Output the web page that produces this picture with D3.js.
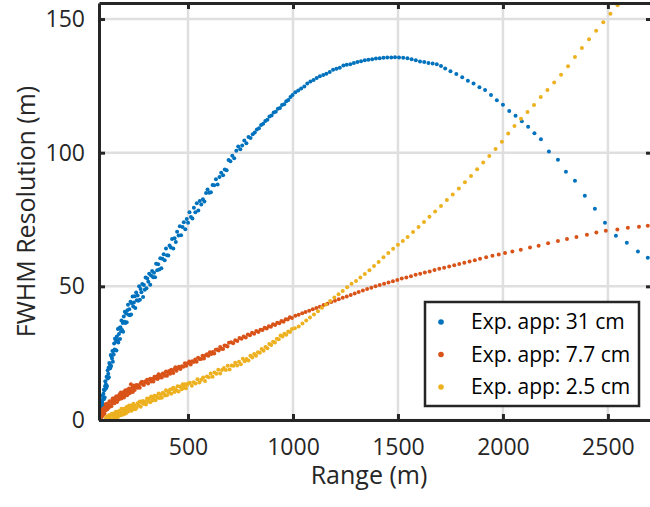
<!DOCTYPE html>
<html>
<head>
<meta charset="utf-8">
<script src="https://cdn.jsdelivr.net/npm/d3@7"></script>
<style>
  html, body { margin: 0; padding: 0; background: #fff; }
  svg { display: block; font-family: "Open Sans", sans-serif; }
</style>
</head>
<body>
<svg id="chart" width="650" height="507"></svg>
<script>
// FWHM resolution versus range for three expansion apertures
const seriesNames = ["Exp. app: 31 cm", "Exp. app: 7.7 cm", "Exp. app: 2.5 cm"];
const seriesColors = ["#0072BD", "#D95319", "#EDB120"];

const xTicks = [500, 1000, 1500, 2000, 2500];
const yTicks = [0, 50, 100, 150];
const xDomain = [76, 2710];
const yDomain = [0, 156];

// [range (m), FWHM (m)]
const app31 = [
  [80,4.1],[81,1.0],[82,3.3],[83,0.6],[84,4.7],[85,3.5],[86,6.9],[87,2.6],[88,5.0],[89,6.9],
  [90,3.3],[91,6.8],[92,5.5],[93,9.1],[94,6.0],[95,7.9],[96,5.2],[97,9.8],[98,8.2],[99,11.3],
  [100,7.9],[102,11.1],[103,8.4],[105,12.6],[106,14.5],[108,11.8],[109,13.4],[111,12.1],[112,16.2],[114,12.7],
  [115,16.2],[117,18.6],[118,15.5],[120,17.3],[122,19.6],[123,16.0],[125,21.3],[127,19.3],[128,20.8],[130,19.5],
  [132,24.3],[134,20.2],[136,23.8],[138,23.0],[140,25.8],[142,21.8],[144,25.8],[146,24.5],[148,28.6],[150,26.4],
  [152,30.4],[154,26.2],[157,29.4],[159,26.0],[161,31.2],[164,29.9],[166,34.0],[168,29.0],[171,32.2],[173,34.4],
  [176,30.3],[178,34.7],[181,33.2],[183,37.2],[186,33.7],[189,36.3],[191,33.0],[194,38.7],[197,36.8],[199,40.5],
  [202,36.3],[205,39.8],[208,36.6],[211,41.1],[214,43.1],[217,39.4],[220,41.4],[223,39.2],[226,44.2],[229,39.5],
  [232,43.7],[236,46.2],[239,42.5],[242,44.0],[246,46.3],[249,41.9],[253,47.7],[256,44.8],[260,46.6],[263,44.6],
  [267,50.0],[271,45.0],[274,49.0],[278,47.8],[282,50.9],[286,46.0],[290,50.5],[294,48.7],[298,53.3],
  [302,49.3],[306,52.9],[311,51.7],[315,54.7],[320,50.6],[324,54.1],[329,55.7],[334,53.4],[338,55.1],[343,53.4],
  [348,58.5],[353,56.0],[358,58.3],[363,56.3],[368,60.5],[373,56.8],[378,60.3],[384,62.0],[389,59.8],[395,64.2],
  [400,61.6],[406,61.5],[412,65.3],[418,64.5],[424,67.7],[430,64.2],[436,68.0],[442,66.6],[448,70.4],[455,69.0],
  [461,72.5],[467,69.1],[474,72.2],[480,74.0],[487,71.4],[494,75.2],[500,73.8],[507,77.7],[514,75.9],[521,75.4],
  [528,79.4],[535,77.7],[542,81.1],[549,78.4],
  [556,81.9],[563,80.6],[571,82.6],[578,81.7],[586,84.9],[593,86.2],[601,85.0],[609,85.2],[617,87.9],[625,87.8],
  [633,90.1],[641,88.1],[650,90.9],[658,92.5],[667,91.6],[675,93.7],[684,93.4],[693,97.3],[702,96.8],[711,98.9],
  [720,97.9],[730,100.7],[739,102.3],[749,101.3],[758,102.7],[768,104.6],[778,103.5],[788,105.9],[798,105.5],
  [808,106.9],[818,107.6],[828,108.7],[838,109.1],[848,110.4],[858,110.8],[868,111.9],[878,112.3],[888,113.5],[898,113.9],
  [908,115.0],[918,115.3],[928,116.4],[938,116.7],[948,117.8],[958,118.1],[968,119.2],[978,119.7],[988,120.8],[998,121.6],
  [1011,122.6],[1025,123.3],[1039,124.0],[1054,124.8],
  [1068,125.9],[1083,126.6],[1098,127.2],[1113,127.9],[1128,128.6],[1144,129.1],[1159,129.5],[1175,130.2],[1191,131.0],[1207,131.4],
  [1223,131.8],[1240,132.6],[1256,132.9],[1273,133.1],[1290,133.6],[1307,133.9],[1324,134.2],[1342,134.6],[1359,134.8],[1377,135.0],
  [1395,135.2],[1413,135.3],[1431,135.5],[1449,135.6],[1468,135.6],[1486,135.7],[1505,135.6],[1525,135.5],[1545,135.3],[1565,135.0],
  [1585,134.6],[1605,134.1],[1625,133.9],[1645,133.6],[1665,133.4],[1685,133.1],[1705,132.4],[1725,131.5],[1750,130.5],[1778,129.4],
  [1806,128.2],[1833,126.9],[1860,125.9],[1888,124.5],[1915,123.5],[1943,121.6],[1971,119.6],[2000,117.9],[2030,115.6],[2060,113.8],
  [2090,111.8],[2120,109.7],[2150,107.3],[2181,105.0],[2219,100.4],[2262,97.4],[2300,92.9],[2343,89.5],[2390,83.9],[2438,79.0],
  [2486,73.8],[2538,68.9],[2590,66.3],[2643,63.0],[2690,60.7]
];

const app77 = [
  [80,1.8],[82,0.4],[84,2.0],[86,1.2],[88,3.3],[90,1.2],[92,2.8],[94,4.0],[96,1.9],[98,3.5],
  [100,4.6],[102,2.4],[104,4.6],[106,3.7],[108,5.9],[110,3.7],[112,5.0],[114,6.1],[116,4.0],[118,5.8],[120,5.1],
  [123,4.7],[126,7.0],[129,5.6],[132,6.9],[135,5.1],[138,6.9],[141,8.0],[144,6.3],[147,7.2],[150,6.3],
  [153,8.4],[156,7.3],[159,8.9],[162,6.7],[165,8.7],[168,8.5],[171,7.7],[174,9.6],[177,8.6],[180,10.3],
  [183,8.0],[186,9.8],[189,8.9],[192,10.4],[195,8.4],[198,10.1],[201,11.1],[204,9.3],[207,10.6],[210,9.3],
  [213,11.3],[216,10.5],[219,11.8],[222,10.0],[225,11.3],[228,13.4],[231,10.7],[234,12.1],[237,10.5],[240,12.2],
  [243,12.9],[246,11.2],[249,12.4],
  [255,13.1],[260,12.1],[265,13.0],[270,12.1],[275,13.8],[280,14.3],[285,13.3],[290,13.1],[295,14.4],[300,14.1],
  [305,15.1],[310,13.7],[315,15.0],[320,15.4],[325,14.4],[330,15.3],[335,14.4],[340,16.2],[345,15.5],[350,16.3],
  [355,15.3],[360,17.1],[365,15.9],[370,16.7],[375,15.9],[380,17.4],[385,17.3],[390,16.6],[395,18.1],[400,16.6],
  [405,17.7],[410,18.3],[415,17.3],[420,18.8],[425,18.0],[430,17.6],[435,19.0],[440,19.7],[445,18.4],[450,19.3],
  [457,19.9],[464,19.1],[471,20.1],[478,19.9],[485,21.2],[492,20.3],[499,21.2],[506,21.9],[513,20.8],[520,22.0],
  [527,21.7],[534,22.6],[541,21.8],[548,23.3],[555,22.8],[562,22.8],[569,24.0],[576,23.0],[583,24.1],[590,24.6],
  [597,24.0],[604,25.3],[611,24.7],[618,25.4],[625,24.9],[632,26.3],[639,26.4],[646,26.0],[653,27.3],[660,26.7],
  [667,26.6],[674,27.9],[681,27.8],[688,27.5],[695,28.9],
  [705,29.1],[715,28.7],[725,29.8],[735,29.6],[745,30.7],[755,30.4],[765,31.2],[775,30.9],[785,32.0],[795,31.7],
  [805,32.6],[815,32.3],[825,33.3],[835,32.9],[845,33.8],[855,33.7],[865,34.5],[875,34.2],[885,35.1],[895,34.9],
  [905,35.8],[915,35.5],[925,36.4],[935,36.2],[945,37.0],[955,36.8],[965,37.7],[975,37.6],[985,38.4],[995,38.2],
  [1011,39.0],[1027,39.4],[1044,39.9],[1060,40.4],[1077,40.9],
  [1094,41.4],[1111,41.9],[1128,42.4],[1146,43.0],[1164,43.5],[1182,44.1],[1200,44.6],[1218,45.2],[1237,45.7],[1256,46.2],
  [1275,46.8],[1294,47.3],[1313,47.9],[1333,48.4],[1353,49.0],[1373,49.5],[1393,50.0],[1413,50.5],[1434,51.0],[1455,51.4],
  [1476,51.9],[1497,52.4],[1518,52.9],[1540,53.3],[1562,53.8],[1584,54.3],[1606,54.7],[1628,55.2],[1651,55.6],[1674,56.1],
  [1697,56.6],[1720,57.0],[1744,57.4],[1768,57.9],[1792,58.4],[1816,58.8],[1841,59.3],[1866,59.8],[1891,60.3],[1920,60.9],
  [1950,61.4],[1980,61.9],[2010,62.5],[2045,63.0],[2085,63.7],[2129,64.5],[2170,65.2],[2215,66.1],[2262,67.0],[2305,67.7],
  [2350,68.5],[2400,69.3],[2445,70.1],[2490,70.8],[2545,71.3],[2595,71.9],[2648,72.3],[2690,72.7]
];

const app25 = [
  [108,0.4],[111,1.2],[114,0.1],[117,1.2],[120,0.1],[123,1.8],[126,0.7],[129,1.7],[132,0.3],[135,2.2],
  [138,0.3],[141,1.8],[144,2.4],[147,0.6],[150,1.9],[153,0.6],[156,3.1],[159,1.6],[162,2.8],[165,1.0],
  [168,2.5],[171,3.4],[174,1.8],[177,3.0],[180,1.8],[183,4.2],[186,2.5],[189,3.2],[192,2.1],[195,4.2],
  [198,3.2],[201,4.1],[204,2.4],[207,4.9],[210,3.5],[213,4.3],[216,3.2],[219,5.4],[222,3.7],[225,4.9],
  [228,5.4],[231,3.5],[234,4.8],[237,4.2],[240,6.1],[243,4.1],[246,5.4],[249,4.0],
  [255,4.6],[260,6.3],[265,5.4],[270,6.9],[275,5.0],[280,6.5],[285,7.1],[290,6.0],[295,6.9],[300,5.8],
  [305,8.0],[310,6.9],[315,8.0],[320,6.6],[325,8.8],[330,7.3],[335,8.1],[340,9.1],[345,7.4],[350,9.0],
  [355,8.3],[360,9.9],[365,8.2],[370,9.5],[375,8.3],[380,10.2],[385,9.9],[390,9.2],[395,11.1],[400,9.3],
  [405,10.7],[410,10.3],[415,11.4],[420,9.8],[425,11.6],[430,12.1],[435,10.5],[440,11.5],[445,11.0],[450,12.6],
  [455,10.7],[460,12.5],[465,12.4],[470,11.5],[475,13.4],[480,12.1],[485,13.4],[490,11.9],[495,13.1],[500,13.7],
  [509,13.9],[518,12.8],[527,14.1],[536,13.7],[545,15.2],[554,14.0],[563,15.1],[572,15.9],[581,14.6],[590,16.3],
  [599,16.0],[608,17.4],[617,16.2],[626,17.8],[635,17.3],[644,18.8],[653,17.4],[662,18.7],[671,19.5],[680,18.7],
  [689,20.3],[698,18.9],[707,20.4],[716,20.3],[725,21.4],[734,20.4],[743,21.8],[752,20.9],[761,22.9],[770,22.0],
  [779,22.8],[788,22.3],[797,24.0],[806,23.4],[815,24.7],[824,24.0],[833,25.3],[842,25.2],[851,26.6],[860,25.9],
  [869,27.3],[878,26.8],[887,28.4],[896,28.1],[905,29.3],[914,29.0],[923,30.4],[932,30.2],[941,31.6],[950,31.2],
  [959,32.3],[968,31.9],[977,33.1],[986,32.9],[995,34.0],
  [1009,34.3],[1027,35.0],[1045,36.1],
  [1063,37.2],[1081,38.3],[1100,39.5],[1119,40.7],[1138,42.0],[1157,43.2],[1177,44.5],[1197,45.8],[1217,47.0],[1237,48.3],
  [1258,49.7],[1279,51.0],[1300,52.0],[1321,53.3],[1342,54.6],[1364,56.0],[1386,57.6],[1408,59.1],[1431,60.9],[1454,62.5],
  [1477,64.1],[1500,65.6],[1523,67.0],[1546,68.5],[1572,70.3],[1598,72.2],[1624,74.1],[1650,76.0],[1677,78.0],[1705,80.1],
  [1733,82.3],[1761,84.4],[1790,86.6],[1819,88.9],[1848,91.3],[1877,93.8],[1906,96.3],[1935,98.8],[1965,101.4],[1995,104.1],
  [2025,107.2],[2055,110.0],[2086,112.7],[2117,115.2],[2148,117.8],[2180,120.8],[2212,123.5],[2244,126.3],[2277,129.2],[2310,132.3],
  [2343,135.8],[2376,139.2],[2410,142.4],[2444,145.6],[2478,148.8],[2512,152.0],[2546,155.2],[2580,158.4]
];

const seriesData = [app31, app77, app25];

const svg = d3.select("#chart");
const plot = { left: 99, top: 3, right: 652, bottom: 420 };
const x = d3.scaleLinear().domain(xDomain).range([plot.left, plot.right]);
const y = d3.scaleLinear().domain(yDomain).range([plot.bottom, plot.top]);

const axisColor = "#262626";
const fmt = d3.format("d");

// grid
const grid = svg.append("g");
grid.selectAll("line.gx").data(xTicks).join("line")
  .attr("x1", d => x(d)).attr("x2", d => x(d))
  .attr("y1", plot.top).attr("y2", plot.bottom)
  .attr("stroke", "#dfdfdf").attr("stroke-width", 2.5);
grid.selectAll("line.gy").data(yTicks).join("line")
  .attr("x1", plot.left).attr("x2", plot.right)
  .attr("y1", d => y(d)).attr("y2", d => y(d))
  .attr("stroke", "#dfdfdf").attr("stroke-width", 2.5);

// data points, clipped to the axes box
svg.append("clipPath").attr("id", "plotClip").append("rect")
  .attr("x", plot.left).attr("y", plot.top)
  .attr("width", plot.right - plot.left).attr("height", plot.bottom - plot.top);

const dots = svg.append("g").attr("clip-path", "url(#plotClip)");
seriesData.forEach((pts, i) => {
  dots.append("g").selectAll("circle").data(pts).join("circle")
    .attr("cx", d => x(d[0])).attr("cy", d => y(d[1]))
    .attr("r", 2).attr("fill", seriesColors[i]);
});

// axes
function styleAxis(g) {
  g.select(".domain").attr("stroke", axisColor).attr("stroke-width", 3);
  g.selectAll(".tick line").attr("stroke", axisColor).attr("stroke-width", 3);
  g.selectAll(".tick text").attr("fill", axisColor)
    .style("font-size", "23px").style("font-family", "'Open Sans', sans-serif");
}

svg.append("g").attr("transform", `translate(0,${plot.bottom})`)
  .call(d3.axisBottom(x).tickValues(xTicks).tickFormat(fmt).tickSizeInner(-6).tickSizeOuter(0).tickPadding(19))
  .call(styleAxis);
svg.append("g").attr("transform", `translate(0,${plot.top})`)
  .call(d3.axisTop(x).tickValues(xTicks).tickSizeInner(-6).tickSizeOuter(0).tickFormat(() => ""))
  .call(styleAxis);
svg.append("g").attr("transform", `translate(${plot.left},0)`)
  .call(d3.axisLeft(y).tickValues(yTicks).tickFormat(fmt).tickSizeInner(-6).tickSizeOuter(0).tickPadding(14))
  .call(styleAxis);
svg.append("g").attr("transform", `translate(${plot.right},0)`)
  .call(d3.axisRight(y).tickValues(yTicks).tickSizeInner(-6).tickSizeOuter(0).tickFormat(() => ""))
  .call(styleAxis);

// axis titles
svg.append("text")
  .attr("x", 369).attr("y", 484)
  .attr("text-anchor", "middle")
  .attr("fill", axisColor)
  .style("font-size", "25px")
  .text("Range (m)");

svg.append("text")
  .attr("transform", `translate(35,${(plot.top + plot.bottom) / 2}) rotate(-90)`)
  .attr("text-anchor", "middle")
  .attr("fill", axisColor)
  .style("font-size", "25px")
  .text("FWHM Resolution (m)");

// legend
const legend = svg.append("g").attr("transform", "translate(425,302)");
legend.append("rect")
  .attr("width", 214).attr("height", 104)
  .attr("fill", "#fff").attr("stroke", axisColor).attr("stroke-width", 2.5);
seriesNames.forEach((name, i) => {
  const row = legend.append("g").attr("transform", `translate(0,${20 + i * 32.5})`);
  row.append("circle").attr("cx", 16).attr("cy", 0).attr("r", 2.8).attr("fill", seriesColors[i]);
  row.append("text").attr("x", 46).attr("y", 0).attr("dy", "0.35em")
    .attr("fill", "#000").style("font-size", "21px").text(name);
});
</script>
</body>
</html>
